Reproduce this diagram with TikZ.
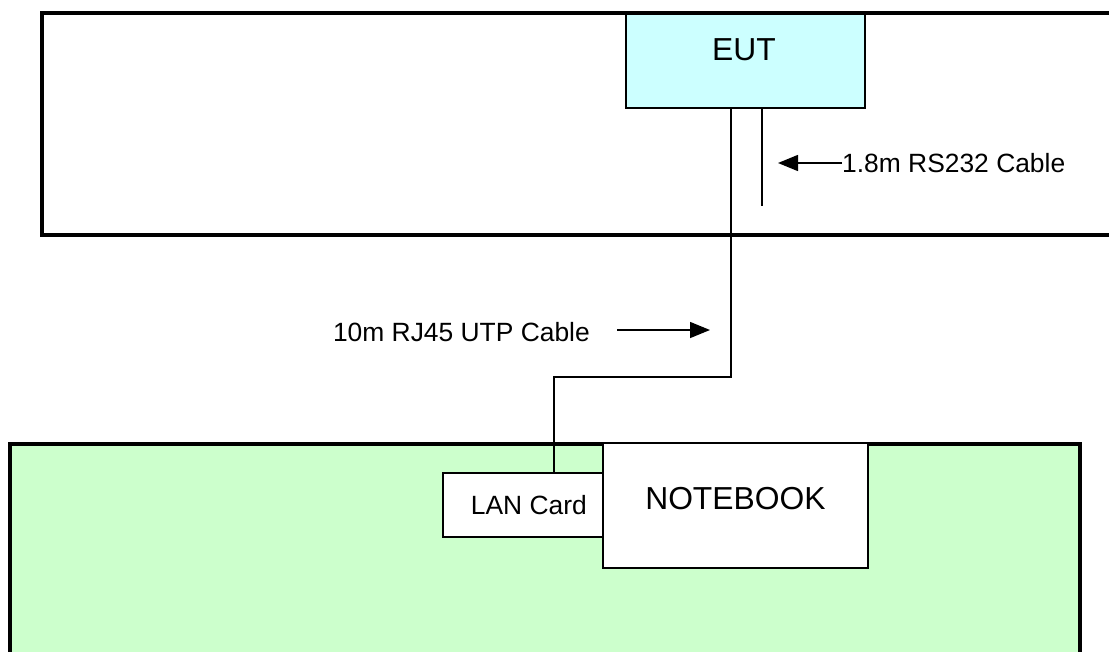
\documentclass[tikz,border=0pt]{standalone}
\usepackage{fontspec}
\setmainfont{Liberation Sans}
\usetikzlibrary{arrows.meta, positioning}
\usepackage{xcolor}

\definecolor{eutcyan}{HTML}{CCFFFF}
\definecolor{roomgreen}{HTML}{CCFFCC}

\tikzset{
  areabox/.style={draw, line width=4pt},
  devbox/.style={draw, line width=1.8pt, inner sep=0pt, anchor=north west},
  cable/.style={line width=1.5pt},
  pointer/.style={line width=1.5pt, -{Triangle[length=20pt, width=16pt]}},
  smalltxt/.style={font=\fontsize{26.4}{30}\selectfont, inner sep=0pt},
  bigtxt/.style={font=\fontsize{31.8}{36}\selectfont, inner sep=0pt},
}

\begin{document}
\begin{tikzpicture}[x=1pt, y=-1pt]
\clip (0,0) rectangle (1109,651);

% lower table with the notebook
\draw[areabox, fill=roomgreen] (10,444) rectangle (1080,700);
\node[devbox, fill=white, minimum width=160, minimum height=64] (lan) at (442,472) {};
\node[smalltxt] (lantxt) at ([xshift=6pt]lan.center) {LAN Card};
\node[devbox, fill=white, minimum width=265, minimum height=125] (nb) at (602,442) {};
\node[bigtxt] (nbtxt) at ([yshift=7pt]nb.center) {NOTEBOOK};

% cable up to the EUT
\coordinate (bend) at (554,377);
\node[devbox, fill=eutcyan, minimum width=239, minimum height=94] (eut) at (625,13) {};
\node[bigtxt] (euttxt) at ([xshift=-1.5pt, yshift=11pt]eut.center) {EUT};
\draw[cable] ([xshift=-14.5pt]eut.south) |- (bend) -- (bend |- lan.north);

% upper table
\draw[areabox] (42,13) rectangle (1130,235);

% RS232 cable marker
\coordinate (rstop) at (762,108);
\coordinate (rsbot) at (762,206);
\draw[cable] (rstop) -- (rsbot);
\node[smalltxt, anchor=west] (rslbl) at (842,163) {1.8m RS232 Cable};
\coordinate (rstip) at (778,163);
\draw[pointer] (rslbl.west) -- (rstip);

% RJ45 label
\node[smalltxt, anchor=east] (utplbl) at (590,332) {10m RJ45 UTP Cable};
\coordinate (utptail) at (617,330);
\coordinate (utptip) at (710,330);
\draw[pointer] (utptail) -- (utptip);
\end{tikzpicture}
\end{document}
